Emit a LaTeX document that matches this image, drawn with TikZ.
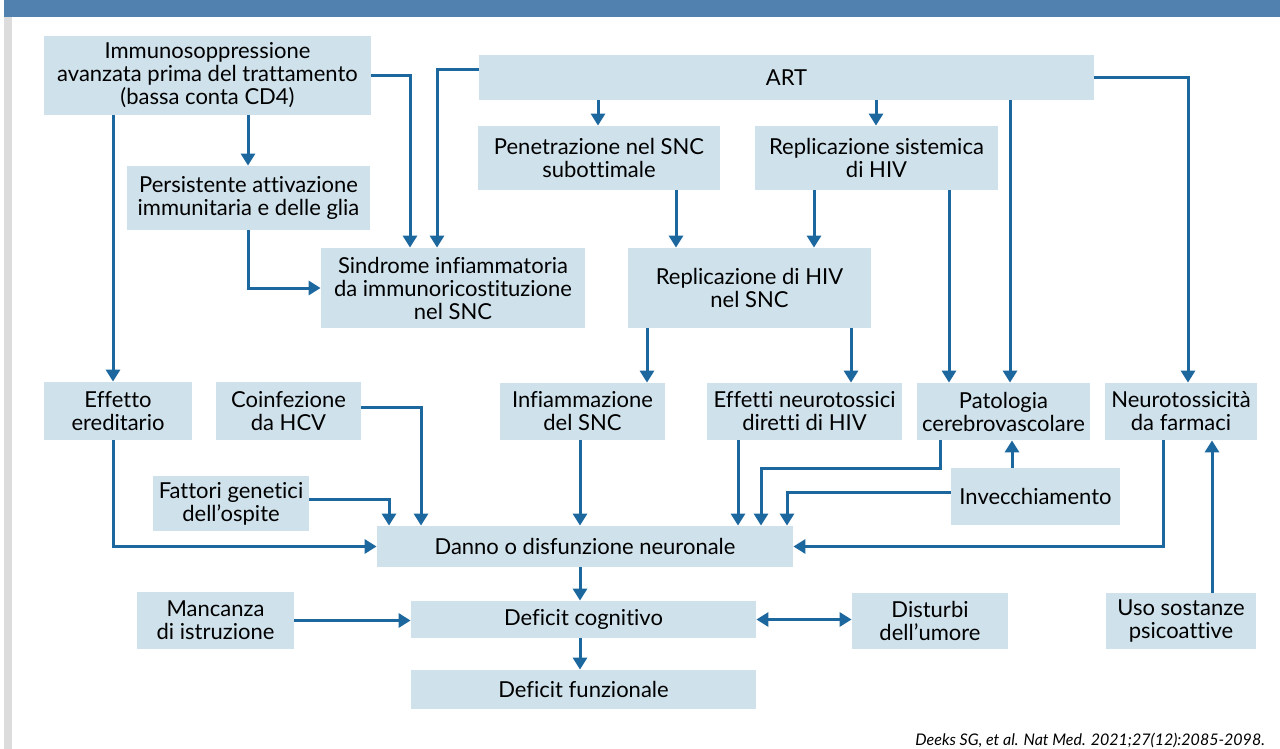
\documentclass[tikz,border=0pt]{standalone}
\usepackage{fontspec}
\setmainfont{Lato}[Ligatures=NoCommon]
\usetikzlibrary{arrows.meta}
\definecolor{boxblue}{HTML}{CFE1EB}
\definecolor{arrblue}{HTML}{1B679E}
\definecolor{barblue}{HTML}{5181AE}
\definecolor{sidegray}{HTML}{DCDCDC}
\tikzset{
  box/.style={fill=boxblue, inner sep=0pt, align=center, font=\fontsize{11}{11.5}\selectfont},
  arr/.style={draw=arrblue, line width=1.5pt, -{Triangle[width=7pt,length=6pt]}},
}
\begin{document}
\begin{tikzpicture}[x=0.5pt, y=-0.5pt]
    \useasboundingbox (0,0) rectangle (1280,749);
    % --- frame ---
    \fill[barblue] (4,0) rectangle (1280,17);
    \fill[sidegray] (4,17) rectangle (12,749);

    % --- boxes ---
    \node[box, minimum width=163.5pt, minimum height=39.5pt] (imm) at (207.5,75.5) {Immunosoppressione\\avanzata prima del trattamento\\(bassa conta CD4)};
    \node[box, minimum width=307.5pt, minimum height=22.5pt] (art) at (786.5,77.5) {ART};
    \node[box, minimum width=121pt, minimum height=32pt] (pen) at (599,158) {Penetrazione nel SNC\\subottimale};
    \node[box, minimum width=121.5pt, minimum height=32pt] (rsis) at (876.5,158) {Replicazione sistemica\\di HIV};
    \node[box, minimum width=121.5pt, minimum height=32pt] (pers) at (248.5,198) {Persistente attivazione\\immunitaria e delle glia};
    \node[box, minimum width=132pt, minimum height=40pt] (sind) at (453,288) {Sindrome infiammatoria\\da immunoricostituzione\\nel SNC};
    \node[box, minimum width=121.5pt, minimum height=40pt] (rsnc) at (749.5,288) {Replicazione di HIV\\nel SNC};
    \node[box, minimum width=74pt, minimum height=29pt] (ered) at (118,411) {Effetto\\ereditario};
    \node[box, minimum width=72.5pt, minimum height=29pt] (hcv) at (288.5,411) {Coinfezione\\da HCV};
    \node[box, minimum width=82.5pt, minimum height=28.5pt] (infl) at (582.5,411.5) {Infiammazione\\del SNC};
    \node[box, minimum width=97.5pt, minimum height=28.5pt] (neur) at (804.5,411.5) {Effetti neurotossici\\diretti di HIV};
    \node[box, minimum width=86.5pt, minimum height=28.5pt] (pat) at (1003.5,411.5) {Patologia\\cerebrovascolare};
    \node[box, minimum width=76pt, minimum height=28.5pt] (ntox) at (1181,411.5) {Neurotossicità\\da farmaci};
    \node[box, minimum width=78pt, minimum height=27.5pt] (gen) at (231,503.5) {Fattori genetici\\dell’ospite};
    \node[box, minimum width=84.5pt, minimum height=28.5pt] (inv) at (1035.5,496.5) {Invecchiamento};
    \node[box, minimum width=208pt, minimum height=20.5pt] (danno) at (585,546.5) {Danno o disfunzione neuronale};
    \node[box, minimum width=78.5pt, minimum height=28.5pt] (manc) at (215.5,620.5) {Mancanza\\di istruzione};
    \node[box, minimum width=172.5pt, minimum height=18.5pt] (cogn) at (583.5,619.5) {Deficit cognitivo};
    \node[box, minimum width=78pt, minimum height=28pt] (dist) at (930,621) {Disturbi\\dell’umore};
    \node[box, minimum width=75pt, minimum height=28pt] (uso) at (1181,621) {Uso sostanze\\psicoattive};
    \node[box, minimum width=172.5pt, minimum height=19.5pt] (funz) at (583.5,689.5) {Deficit funzionale};

    % --- straight vertical arrows ---
    \foreach \x/\a/\b in {248/imm/pers, 113/imm/ered, 598/art/pen, 876/art/rsis, 1010/art/pat,
                          676/pen/rsnc, 814/rsis/rsnc, 949/rsis/pat, 647/rsnc/infl, 851/rsnc/neur,
                          580/infl/danno, 738/neur/danno, 580/danno/cogn, 580/cogn/funz}
        \draw[arr] (\x,0 |- \a.south) -- (\x,0 |- \b.north);

    % --- elbow arrows ---
    \draw[arr] (imm.east) -| (410,0 |- sind.north);
    \draw[arr] (art.west |- 0,70) -| (437,0 |- sind.north);
    \draw[arr] (art.east) -| (1188,0 |- ntox.north);
    \draw[arr] (248,0 |- pers.south) |- (sind.west);
    \draw[arr] (hcv.east |- 0,407) -| (421,0 |- danno.north);
    \draw[arr] (gen.east |- 0,499) -| (389,0 |- danno.north);
    \draw[arr] (113,0 |- ered.south) |- (danno.west);
    \draw[arr] (940,0 |- pat.south) -- (940,468) -| (761,0 |- danno.north);
    \draw[arr] (inv.west |- 0,492) -| (787,0 |- danno.north);
    \draw[arr] (1163,0 |- ntox.south) |- (danno.east);

    % --- upward arrows ---
    \draw[arr] (1012,0 |- inv.north) -- (1012,0 |- pat.south);
    \draw[arr] (1212,0 |- uso.north) -- (1212,0 |- ntox.south);

    % --- bottom row ---
    \draw[arr] (manc.east) -- (manc.east -| cogn.west);
    \draw[arr, {Triangle[width=7pt,length=6pt]}-{Triangle[width=7pt,length=6pt]}] (cogn.east) -- (cogn.east -| dist.west);

    \node[anchor=base east, font=\fontsize{8}{10}\selectfont\itshape] (src) at (1272,745) {Deeks SG, et al. Nat Med. 2021;27(12):2085-2098.};
\end{tikzpicture}
\end{document}
